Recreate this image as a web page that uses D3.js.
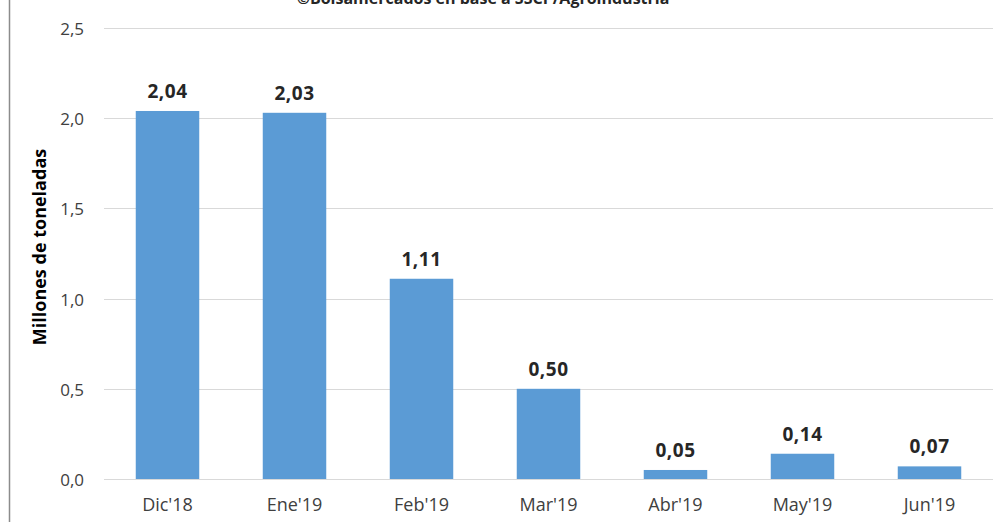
<!DOCTYPE html>
<html><head><meta charset="utf-8">
<script src="https://cdn.jsdelivr.net/npm/d3@7"></script>
<style>body{margin:0;background:#fff}svg{display:block}</style>
</head><body>
<script>
const categories = ["Dic'18","Ene'19","Feb'19","Mar'19","Abr'19","May'19","Jun'19"];
const values = [2.04, 2.03, 1.11, 0.50, 0.05, 0.14, 0.07];
const yTicks = [0, 0.5, 1.0, 1.5, 2.0, 2.5];
const yTitle = "Millones de toneladas";
const source = "©Bolsamercados en base a SSCP/Agroindustria";

const W = 1000, H = 522;
const svg = d3.select("body").append("svg").attr("width", W).attr("height", H);
const fmt = v => d3.format(".1f")(v).replace(".", ",");
const fmt2 = v => d3.format(".2f")(v).replace(".", ",");
const font = "'Open Sans', 'Liberation Sans', sans-serif";

// frame left edge
svg.append("line").attr("x1", 9.5).attr("x2", 9.5).attr("y1", 0).attr("y2", H)
  .attr("stroke", "#8c8c8c").attr("stroke-width", 1.5);

// source line (cut off at top, as in the reference)
svg.append("text").attr("x", 483).attr("y", 4).attr("text-anchor", "middle")
  .attr("font-family", font).attr("font-weight", "bold").attr("font-size", 16)
  .attr("fill", "#262626").text(source);

const x = d3.scaleBand().domain(categories).range([104, 993]).paddingInner(0.5).paddingOuter(0.25);
const y = d3.scaleLinear().domain([0, 2.5]).range([479, 28]);

// gridlines
svg.append("g").selectAll("line").data(yTicks).join("line")
  .attr("x1", 104).attr("x2", 993)
  .attr("y1", d => Math.round(y(d)) + 0.5).attr("y2", d => Math.round(y(d)) + 0.5)
  .attr("stroke", "#d9d9d9").attr("stroke-width", 1);

// y axis labels
const yAxis = d3.axisLeft(y).tickValues(yTicks).tickFormat(fmt).tickSize(0).tickPadding(0);
const gy = svg.append("g").attr("transform", "translate(84,1)").call(yAxis);
gy.select(".domain").remove();
gy.selectAll("text").attr("font-family", font).attr("font-size", 17).attr("fill", "#404040");

// x axis labels
const xAxis = d3.axisBottom(x).tickSize(0).tickPadding(0);
const gx = svg.append("g").attr("transform", "translate(0,498)").call(xAxis);
gx.select(".domain").remove();
gx.selectAll("text").attr("font-family", font).attr("font-size", 18).attr("fill", "#404040");

// bars
svg.append("g").selectAll("rect").data(values).join("rect")
  .attr("x", (d, i) => x(categories[i]))
  .attr("width", x.bandwidth())
  .attr("y", d => y(d))
  .attr("height", d => y(0) - y(d))
  .attr("fill", "#5b9bd5");

// value labels
svg.append("g").selectAll("text").data(values).join("text")
  .attr("x", (d, i) => x(categories[i]) + x.bandwidth() / 2)
  .attr("y", d => y(d) - 13)
  .attr("text-anchor", "middle")
  .attr("font-family", font).attr("font-weight", "bold").attr("font-size", 19)
  .attr("letter-spacing", 0.5)
  .attr("fill", "#262626").text(fmt2);

// y title
svg.append("text").attr("transform", "translate(46,247) rotate(-90)")
  .attr("text-anchor", "middle")
  .attr("font-family", font).attr("font-weight", "bold").attr("font-size", 18)
  .attr("fill", "#000").text(yTitle);
</script>
</body></html>
